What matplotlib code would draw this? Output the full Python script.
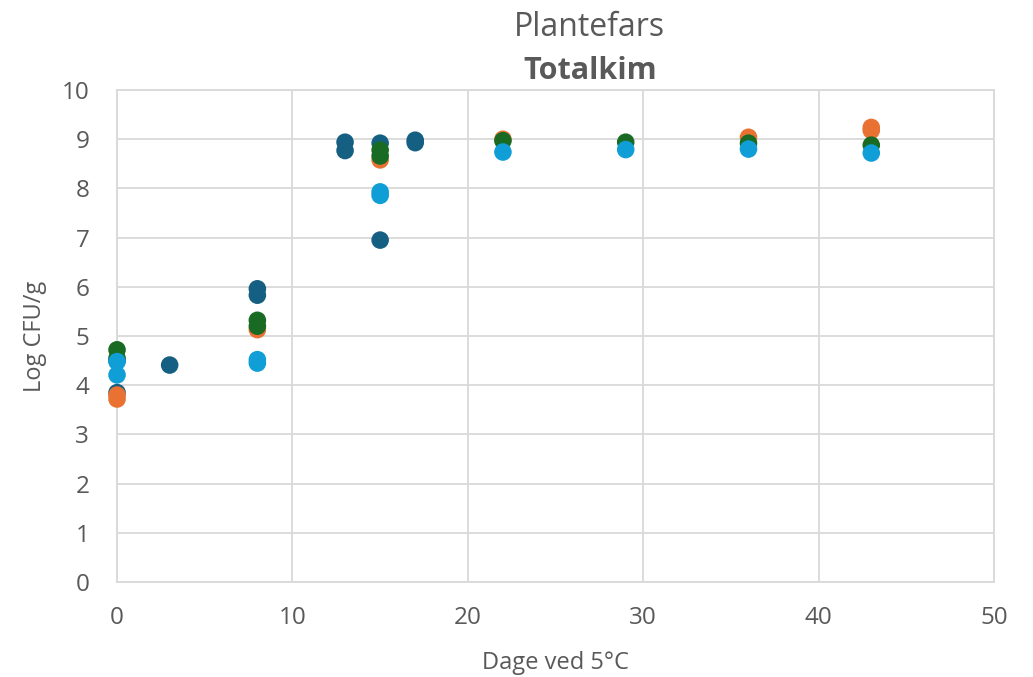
import matplotlib
matplotlib.use("Agg")
import matplotlib.pyplot as plt

# values, four series (dark blue, orange, green, light blue)
s1_x = [0, 0, 3, 8, 8, 13, 13, 15, 15, 17, 17]
s1_y = [4.5, 3.85, 4.41, 5.96, 5.83, 8.94, 8.77, 8.92, 6.95, 8.98, 8.93]

s2_x = [0, 0, 8, 15, 22, 36, 43, 43]
s2_y = [3.8, 3.72, 5.13, 8.58, 9.0, 9.04, 9.24, 9.18]

s3_x = [0, 0, 8, 8, 15, 15, 22, 29, 36, 43]
s3_y = [4.72, 4.55, 5.32, 5.2, 8.78, 8.66, 8.97, 8.94, 8.92, 8.88]

s4_x = [0, 0, 8, 8, 15, 15, 22, 29, 36, 43]
s4_y = [4.48, 4.21, 4.52, 4.45, 7.93, 7.86, 8.74, 8.79, 8.8, 8.72]

colors = ["#156082", "#E97132", "#196B24", "#0F9ED5"]
text_color = "#595959"
grid_color = "#D9D9D9"

plt.rcParams["font.family"] = ["Open Sans", "DejaVu Sans"]

fig = plt.figure(figsize=(10.33, 6.77), dpi=100)
ax = fig.add_axes([0.1133, 0.1403, 0.849, 0.7267])

for xs, ys, c in zip([s1_x, s2_x, s3_x, s4_x], [s1_y, s2_y, s3_y, s4_y], colors):
    ax.scatter(xs, ys, s=160, color=c, edgecolors="none", zorder=3, clip_on=False)

ax.set_xlim(0, 50)
ax.set_ylim(0, 10)
ax.set_xticks(range(0, 51, 10))
ax.set_yticks(range(0, 11))
ax.grid(True, color=grid_color, linewidth=1.3)
ax.set_axisbelow(True)
for sp in ax.spines.values():
    sp.set_color(grid_color)
    sp.set_linewidth(1.3)
ax.tick_params(length=0, labelsize=17.5, colors=text_color)
ax.tick_params(axis="x", pad=17)
ax.tick_params(axis="y", pad=20)

ax.set_xlabel("Dage ved 5°C", fontsize=17, color=text_color, va="center")
ax.set_ylabel("Log CFU/g", fontsize=17, color=text_color, va="center")
ax.xaxis.set_label_coords(0.5, -0.165)
ax.yaxis.set_label_coords(-0.0935, 0.5)

fig.text(0.571, 0.96, "Plantefars", ha="center", va="center", fontsize=23, color=text_color)
fig.text(0.571, 0.895, "Totalkim", ha="center", va="center", fontsize=22,
         fontweight="bold", color=text_color)

fig.savefig("out.png", dpi=100)
plt.close(fig)
